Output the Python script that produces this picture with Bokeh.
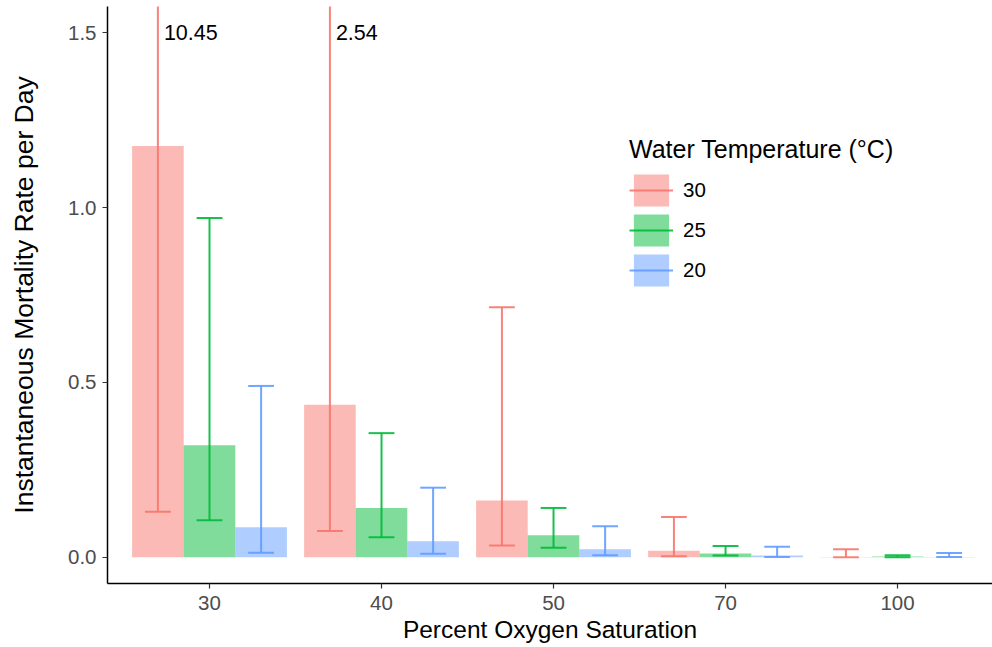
from bokeh.plotting import figure
from bokeh.models import (Range1d, FixedTicker, Legend, LegendItem, ColumnDataSource, LabelSet)
from bokeh.core.properties import value
from bokeh.embed import file_html
from bokeh.resources import INLINE

# ---- data ----
categories = ["30", "40", "50", "70", "100"]
temps = ["30", "25", "20"]
colors = ["#F8766D", "#00BA38", "#619CFF"]

rate_30 = [1.176, 0.436, 0.162, 0.019, 0.001]
lower_30 = [0.130, 0.075, 0.034, 0.003, 0.000]
upper_30 = [10.45, 2.54, 0.715, 0.115, 0.023]

rate_25 = [0.320, 0.141, 0.063, 0.011, 0.002]
lower_25 = [0.106, 0.057, 0.027, 0.005, 0.000]
upper_25 = [0.970, 0.355, 0.141, 0.032, 0.006]

rate_20 = [0.086, 0.046, 0.023, 0.005, 0.001]
lower_20 = [0.013, 0.010, 0.006, 0.001, 0.001]
upper_20 = [0.490, 0.199, 0.089, 0.030, 0.012]

y_ticks = [0.0, 0.5, 1.0, 1.5]
y_limit = 1.5

series = [
    (temps[0], colors[0], rate_30, lower_30, upper_30),
    (temps[1], colors[1], rate_25, lower_25, upper_25),
    (temps[2], colors[2], rate_20, lower_20, upper_20),
]

FONT = "Liberation Sans"

p = figure(width=992, height=647, output_backend="svg", toolbar_location=None,
           x_range=Range1d(0.407, 5.552), y_range=Range1d(-0.075, 1.575),
           min_border_left=107, min_border_right=0, min_border_top=6, min_border_bottom=64)
p.xgrid.visible = False
p.ygrid.visible = False
p.outline_line_color = None
p.background_fill_color = "white"
p.border_fill_color = "white"

dodge = [-0.3, 0.0, 0.3]
bar_w = 0.3
cap_w = 0.15

items = []
label_x, label_y, label_t = [], [], []
for (name, col, rate, lo, hi), d in zip(series, dodge):
    xs = [i + 1 + d for i in range(len(categories))]
    src = ColumnDataSource(dict(x=xs, top=rate, lo=lo, hi=hi,
                                cl=[x - cap_w / 2 for x in xs], cr=[x + cap_w / 2 for x in xs]))
    vb = p.vbar(x="x", top="top", bottom=0, width=bar_w, source=src,
                fill_color=col, fill_alpha=0.5, line_color=None)
    seg = p.segment(x0="x", y0="lo", x1="x", y1="hi", source=src,
                    line_color=col, line_width=2, line_alpha=0.9)
    p.segment(x0="cl", y0="lo", x1="cr", y1="lo", source=src, line_color=col, line_width=2, line_alpha=0.9)
    p.segment(x0="cl", y0="hi", x1="cr", y1="hi", source=src, line_color=col, line_width=2, line_alpha=0.9)
    items.append(LegendItem(label=name, renderers=[vb, seg]))
    for x, h in zip(xs, hi):
        if h > y_limit:
            label_x.append(x)
            label_y.append(y_limit)
            label_t.append(f"{h:.2f}")

lab_src = ColumnDataSource(dict(x=label_x, y=label_y, t=label_t))
p.add_layout(LabelSet(x="x", y="y", text="t", source=lab_src, x_offset=6, y_offset=0,
                      text_font=value(FONT), text_font_size="21.5px", text_color="black",
                      text_baseline="middle", text_align="left"))

# axes
for ax in (p.xaxis[0], p.yaxis[0]):
    ax.axis_line_color = "black"
    ax.axis_line_width = 1.5
    ax.major_tick_line_color = "#333333"
    ax.major_tick_line_width = 1.2
    ax.major_tick_out = 5
    ax.major_tick_in = 0
    ax.minor_tick_line_color = None
    ax.major_label_text_color = "#4D4D4D"
    ax.major_label_text_font = FONT
    ax.major_label_text_font_size = "20.5px"
    ax.axis_label_text_font = FONT
    ax.axis_label_text_font_style = "normal"
    ax.axis_label_text_color = "black"

p.xaxis.ticker = FixedTicker(ticks=list(range(1, len(categories) + 1)))
p.xaxis.major_label_overrides = {i + 1: c for i, c in enumerate(categories)}
p.xaxis.axis_label = "Percent Oxygen Saturation"
p.xaxis.axis_label_text_font_size = "24.5px"
p.xaxis.major_label_standoff = 7
p.xaxis.axis_label_standoff = 3

p.yaxis.ticker = FixedTicker(ticks=y_ticks)
p.yaxis.major_label_overrides = {t: f"{t:.1f}" for t in y_ticks}
p.yaxis.axis_label = "Instantaneous Mortality Rate per Day"
p.yaxis.axis_label_text_font_size = "26.5px"
p.yaxis.major_label_standoff = 6
p.yaxis.axis_label_standoff = 26

legend = Legend(items=items, location=(522, 293), title="Water Temperature (°C)",
                title_text_font=FONT, title_text_font_size="25px", title_text_font_style="normal",
                title_text_color="black", title_standoff=6,
                label_text_font=FONT, label_text_font_size="20.5px", label_text_color="black",
                glyph_width=44, glyph_height=40, spacing=0, padding=0, margin=0,
                label_standoff=10, border_line_color=None, background_fill_alpha=0)
p.add_layout(legend)

open("out.html", "w").write(file_html(p, INLINE))
